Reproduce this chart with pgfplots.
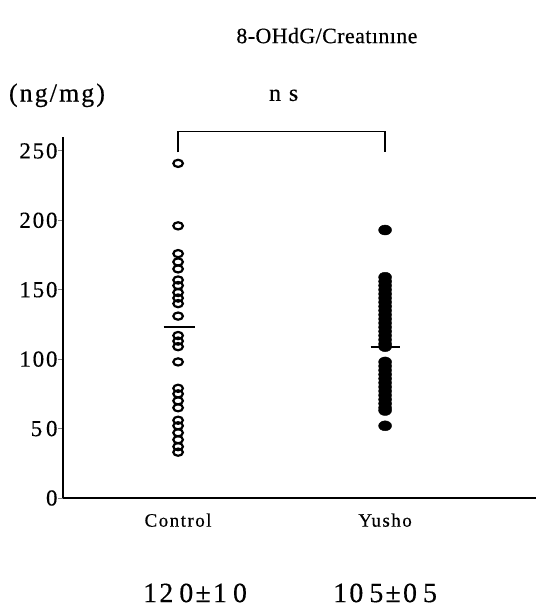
\documentclass[border=0pt]{standalone}
\usepackage{fontspec}
\setmainfont{Liberation Serif}[LetterSpace=8,FakeBold=0.4]
\usepackage{pgfplots}
\usepackage{pgfplotstable}
\pgfplotsset{compat=1.18}

% values (ng/mg)
\pgfplotstableread{
y
241
196
176
170
165
157
153
148
144
140
131
117
113
109
98
79
75
70
65
56
52
47
42
37
33
}\controldata
\pgfplotstableread{
y
193
159
156
153
150
147
144
141
138
135
132
129
126
123
120
117
114
111
109
98
95
92
89
86
83
80
77
74
71
68
65
63
52
}\yushodata

\begin{document}
\begin{tikzpicture}[x=1bp,y=1bp]
\begin{axis}[
  at={(0,0)}, anchor=south west,
  scale only axis, width=473bp, height=361bp,
  xmin=0.444, xmax=2.729, ymin=0, ymax=260,
  axis x line=bottom, axis y line=left,
  axis line style={line width=1.8pt,-},
  xtick={1,2}, xticklabels={Control,Yusho},
  xtick style={draw=none},
  xticklabel style={font=\fontsize{19}{21}\selectfont, yshift=-7bp},
  ytick={0,50,100,150,200,250},
  yticklabels={\raisebox{-4bp}{0}\hspace{10bp},5\,0,100,150,200,250},
  ytick style={line width=0.8pt},
  tick align=outside, major tick length=5bp,
  yticklabel style={font=\fontsize{23}{25}\selectfont, xshift=3bp},
  /pgf/number format/assume math mode=true,
  clip=false,
]
\addplot[only marks, mark=o, mark size=4bp,
  mark options={xscale=1.2, yscale=0.9, line width=2.2pt, black}]
  table[x expr=1, y=y] {\controldata};
\addplot[only marks, mark=*, mark size=5bp,
  mark options={xscale=1.3, yscale=1.0, fill=black, draw=black}]
  table[x expr=2, y=y] {\yushodata};
% group means
\addplot[line width=1.8pt, black] coordinates {(0.93,123) (1.08,123)};
\addplot[line width=1.8pt, black] coordinates {(1.93,109) (2.07,109)};
% significance bracket
\draw[line width=1.6pt] (axis cs:1,249) -- (axis cs:1,264) -- (axis cs:2,264) -- (axis cs:2,249);
\node[font=\fontsize{24}{26}\selectfont] at (axis cs:1.51,290) {n s};
\node[font=\fontsize{26}{28}\selectfont] at (axis cs:0.415,290) {(ng/mg)};
\node[font=\fontsize{22}{24}\selectfont\addfontfeatures{LetterSpace=2}] at (axis cs:1.719,333) {8-OHdG/Creatınıne};
\node[font=\fontsize{28}{30}\selectfont] at (axis cs:1.082,-68.4) {12\hspace{6bp}0±1\hspace{6bp}0};
\node[font=\fontsize{28}{30}\selectfont] at (axis cs:2.0,-68.4) {10\hspace{6bp}5±0\hspace{6bp}5};
\end{axis}
\path[use as bounding box] (-63,-112) rectangle (473,498);
\end{tikzpicture}
\end{document}
